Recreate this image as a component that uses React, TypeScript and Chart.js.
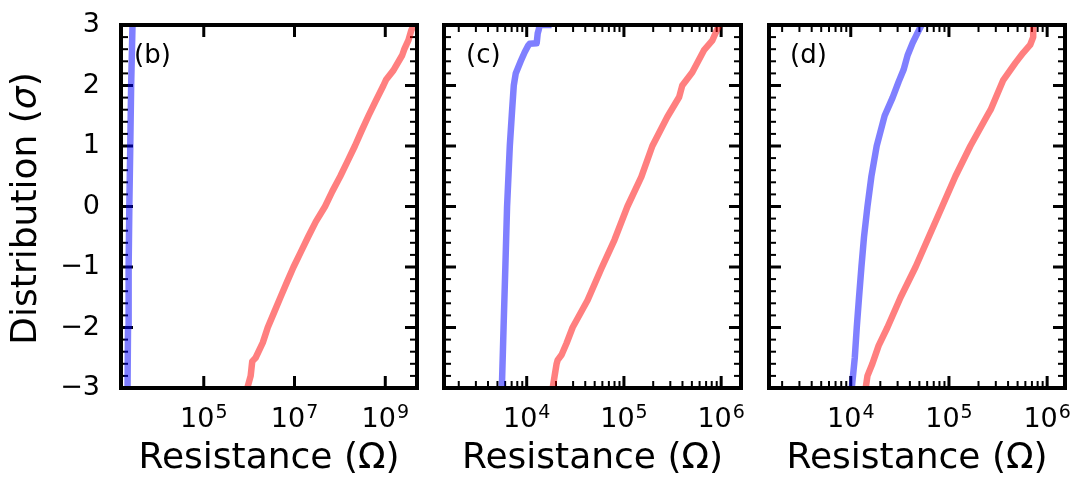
import { useEffect, useRef } from "react";
import { Chart, registerables } from "chart.js";

Chart.register(...registerables);

const FONT = "'DejaVu Sans', 'Liberation Sans', sans-serif";
const PAGE_H = 495;

// Probit axis (σ)
const SIGMA_MIN = -3;
const SIGMA_MAX = 3;
const SIGMA_TICKS = [-3, -2, -1, 0, 1, 2, 3];

// Panel (b): low- and high-resistance distributions
const bLowSigma = [-3, -2, -1, 0, 1, 2, 3];
const bLowRes = [2090, 2140, 2210, 2290, 2400, 2510, 2690];
const bHighSigma = [
  -3, -2.8, -2.56, -2.5, -2.25, -2, -1.75, -1.5, -1.25, -1, -0.75, -0.5, -0.25, 0,
  0.25, 0.5, 0.75, 1, 1.25, 1.5, 1.75, 2, 2.1, 2.25, 2.5, 2.6, 2.75, 2.9, 3,
];
const bHighRes = [
  9.1e5, 1.08e6, 1.17e6, 1.39e6, 2.0e6, 2.57e6, 3.55e6, 4.9e6, 6.8e6, 9.5e6, 1.38e7,
  2.0e7, 2.95e7, 4.7e7, 6.8e7, 1.02e8, 1.48e8, 2.14e8, 3.0e8, 4.27e8, 6.2e8, 9.1e8,
  1.05e9, 1.51e9, 2.36e9, 2.63e9, 3.24e9, 3.7e9, 4.2e9,
];

// Panel (c)
const cLowSigma = [-3, -2, -1, 0, 1, 1.6, 2.0, 2.2, 2.4, 2.55, 2.66, 2.69, 2.7, 2.86, 2.92, 3.0, 3.0];
const cLowRes = [
  5550, 5780, 6030, 6280, 6700, 7080, 7360, 7710, 8670, 9530, 10360, 10730, 12670, 12970,
  13280, 13590, 18030,
];
const cHighSigma = [
  -3, -2.8, -2.6, -2.54, -2.45, -2.26, -2, -1.55, -1.02, -0.55, 0, 0.49, 1, 1.48, 1.81, 2,
  2.22, 2.59, 2.74, 3,
];
const cHighRes = [
  18500, 19360, 20300, 20800, 22860, 25700, 29650, 42270, 58750, 80000, 108600, 151000,
  196000, 279000, 370000, 398000, 505000, 670000, 809000, 953000,
];

// Panel (d)
const dLowSigma = [-3, -2.5, -2, -1.5, -1, -0.5, 0, 0.5, 1, 1.5, 1.8, 2.06, 2.26, 2.5, 2.7, 2.87, 3];
const dLowRes = [
  10240, 10990, 11510, 12140, 12840, 13650, 14790, 16230, 18370, 22130, 26680, 30690, 34510,
  37930, 42570, 47860, 52610,
];
const dHighSigma = [-3, -2.8, -2.6, -2.3, -2, -1.5, -1, -0.5, 0, 0.5, 1, 1.5, 1.6, 2.09, 2.37, 2.54, 2.67, 2.8, 3];
const dHighRes = [
  14200, 14790, 16600, 19230, 23600, 32200, 45700, 62400, 85300, 116400, 165200, 245000,
  266000, 357300, 473200, 570200, 671000, 721000, 721000,
];

// Decade tick marks of the resistance axes
const bDecades = [1e5, 1e7, 1e9];
const cdDecades = [1e4, 1e5, 1e6];
const cdMinorDecades = [1e3, 1e4, 1e5];

const RED = "rgba(255, 0, 0, 0.5)";
const BLUE = "rgba(0, 0, 255, 0.5)";

type Panel = {
  id: string;
  label: string;
  left: number; // canvas left on the page
  width: number; // canvas width
  pad: { left: number; right: number };
  labelX: number; // page x of the panel tag
  xMin: number;
  xMax: number;
  majors: number[];
  minorDecades: number[];
  showY: boolean;
  low: [number[], number[]];
  high: [number[], number[]];
};

const PANELS: Panel[] = [
  {
    id: "b", label: "(b)", left: 0, width: 430, pad: { left: 0, right: 13 }, labelX: 134,
    xMin: 1500, xMax: 5.0e9, majors: bDecades, minorDecades: [], showY: true,
    low: [bLowSigma, bLowRes], high: [bHighSigma, bHighRes],
  },
  {
    id: "c", label: "(c)", left: 430, width: 330, pad: { left: 14, right: 19 }, labelX: 466,
    xMin: 1410, xMax: 1.6e6, majors: cdDecades, minorDecades: cdMinorDecades, showY: false,
    low: [cLowSigma, cLowRes], high: [cHighSigma, cHighRes],
  },
  {
    id: "d", label: "(d)", left: 760, width: 330, pad: { left: 9, right: 25 }, labelX: 790,
    xMin: 1470, xMax: 1.52e6, majors: cdDecades, minorDecades: cdMinorDecades, showY: false,
    low: [dLowSigma, dLowRes], high: [dHighSigma, dHighRes],
  },
];

const AREA_TOP = 25;
const AREA_BOTTOM = 388;
const Y_AXIS_W = 121;
const PAD_BOTTOM = 15;
const MAJOR_LEN = 12;
const MINOR_LEN = 7;
const TITLE_SIZE = 36;
const TICK_SIZE = 27;
const EXP_SIZE = 19;
const LINE_W = 6.5;
const Y_TITLE_X = 27;

const SUPERSCRIPT_SHIFT = 9;

function toPoints(sigma: number[], res: number[]) {
  return sigma.map((s, i) => ({ x: res[i], y: s }));
}

function minorSigmaTicks(): number[] {
  const out: number[] = [];
  for (let k = SIGMA_MIN * 5; k <= SIGMA_MAX * 5; k++) {
    if (k % 5 !== 0) out.push(k / 5);
  }
  return out;
}

function minorResTicks(decades: number[], min: number, max: number): number[] {
  const out: number[] = [];
  for (const d of decades) {
    for (let m = 2; m <= 9; m++) {
      const v = m * d;
      if (v > min && v < max) out.push(v);
    }
  }
  return out;
}

// Vertical axis title with an oblique sigma, as in math notation
function drawSigmaTitle(ctx: CanvasRenderingContext2D, cx: number, cy: number) {
  const parts: [string, string][] = [
    ["Distribution (", `${TITLE_SIZE}px ${FONT}`],
    ["σ", `oblique ${TITLE_SIZE}px ${FONT}`],
    [")", `${TITLE_SIZE}px ${FONT}`],
  ];
  let total = 0;
  const widths = parts.map(([t, f]) => {
    ctx.font = f;
    const w = ctx.measureText(t).width;
    total += w;
    return w;
  });
  ctx.save();
  ctx.translate(cx, cy);
  ctx.rotate(-Math.PI / 2);
  ctx.fillStyle = "#000";
  ctx.textBaseline = "middle";
  ctx.textAlign = "left";
  let x = -total / 2;
  parts.forEach(([t, f], i) => {
    ctx.font = f;
    ctx.fillText(t, x, 0);
    x += widths[i];
  });
  ctx.restore();
}

function makeDecor(panel: Panel) {
  const sigmaMinor = minorSigmaTicks();
  const resMinor = minorResTicks(panel.minorDecades, panel.xMin, panel.xMax);
  return {
    id: "panelDecor",
    beforeDatasetsDraw(chart: Chart) {
      const { ctx, chartArea: a } = chart;
      const xs = chart.scales.x;
      const ys = chart.scales.y;
      ctx.save();
      ctx.strokeStyle = "#000";
      ctx.lineCap = "butt";
      const seg = (x1: number, y1: number, x2: number, y2: number, w: number) => {
        ctx.lineWidth = w;
        ctx.beginPath();
        ctx.moveTo(x1, y1);
        ctx.lineTo(x2, y2);
        ctx.stroke();
      };
      for (const v of SIGMA_TICKS) {
        const y = ys.getPixelForValue(v);
        seg(a.left, y, a.left + MAJOR_LEN, y, 3);
        seg(a.right, y, a.right - MAJOR_LEN, y, 3);
      }
      for (const v of sigmaMinor) {
        const y = ys.getPixelForValue(v);
        seg(a.left, y, a.left + MINOR_LEN, y, 2);
        seg(a.right, y, a.right - MINOR_LEN, y, 2);
      }
      for (const v of panel.majors) {
        const x = xs.getPixelForValue(v);
        seg(x, a.bottom, x, a.bottom - MAJOR_LEN, 3);
        seg(x, a.top, x, a.top + MAJOR_LEN, 3);
      }
      for (const v of resMinor) {
        const x = xs.getPixelForValue(v);
        seg(x, a.bottom, x, a.bottom - MINOR_LEN, 2);
        seg(x, a.top, x, a.top + MINOR_LEN, 2);
      }
      ctx.restore();
    },
    afterDatasetsDraw(chart: Chart) {
      const { ctx, chartArea: a } = chart;
      const xs = chart.scales.x;
      ctx.save();
      // axes frame
      ctx.strokeStyle = "#000";
      ctx.lineWidth = 4;
      ctx.strokeRect(a.left, a.top, a.right - a.left, a.bottom - a.top);

      // panel tag
      ctx.fillStyle = "#000";
      ctx.textBaseline = "alphabetic";
      ctx.textAlign = "left";
      ctx.font = `26px ${FONT}`;
      ctx.fillText(panel.label, panel.labelX - panel.left, 63);

      // decade labels 10^n
      for (const v of panel.majors) {
        const x = xs.getPixelForValue(v);
        const exp = String(Math.round(Math.log10(v)));
        ctx.font = `${TICK_SIZE}px ${FONT}`;
        const wb = ctx.measureText("10").width;
        ctx.font = `${EXP_SIZE}px ${FONT}`;
        const we = ctx.measureText(exp).width;
        const x0 = x - (wb + we + 1) / 2;
        ctx.font = `${TICK_SIZE}px ${FONT}`;
        ctx.fillText("10", x0, 427);
        ctx.font = `${EXP_SIZE}px ${FONT}`;
        ctx.fillText(exp, x0 + wb + 1, 427 - SUPERSCRIPT_SHIFT);
      }
      ctx.restore();

      if (panel.showY) {
        drawSigmaTitle(ctx, Y_TITLE_X, (a.top + a.bottom) / 2 + 2);
      }
    },
  };
}

function PanelChart({ panel }: { panel: Panel }) {
  const ref = useRef<HTMLCanvasElement>(null);

  useEffect(() => {
    const canvas = ref.current;
    if (!canvas) return;
    const xAxisH = PAGE_H - PAD_BOTTOM - AREA_BOTTOM;
    const chart = new Chart(canvas, {
      type: "scatter",
      data: {
        datasets: [
          {
            data: toPoints(panel.high[0], panel.high[1]),
            borderColor: RED,
            backgroundColor: RED,
            borderWidth: LINE_W,
            borderJoinStyle: "round",
            showLine: true,
            pointRadius: 0,
            pointHoverRadius: 0,
            clip: 0,
          },
          {
            data: toPoints(panel.low[0], panel.low[1]),
            borderColor: BLUE,
            backgroundColor: BLUE,
            borderWidth: LINE_W,
            borderJoinStyle: "round",
            showLine: true,
            pointRadius: 0,
            pointHoverRadius: 0,
            clip: 0,
          },
        ],
      },
      options: {
        responsive: false,
        animation: false,
        events: [],
        layout: {
          padding: { left: panel.pad.left, right: panel.pad.right, top: AREA_TOP, bottom: PAD_BOTTOM },
        },
        plugins: {
          legend: { display: false },
          tooltip: { enabled: false },
        },
        scales: {
          x: {
            type: "logarithmic",
            min: panel.xMin,
            max: panel.xMax,
            grid: { display: false, drawTicks: false, tickLength: 0 },
            border: { display: false },
            ticks: { display: false },
            title: {
              display: true,
              text: "Resistance (Ω)",
              color: "#000",
              font: { family: FONT, size: TITLE_SIZE },
              padding: { top: 0, bottom: 0 },
            },
            afterFit: (s: any) => {
              s.height = xAxisH;
            },
          },
          y: {
            type: "linear",
            min: SIGMA_MIN,
            max: SIGMA_MAX,
            display: panel.showY,
            grid: { display: false, drawTicks: false, tickLength: 0 },
            border: { display: false },
            ticks: {
              stepSize: 1,
              color: "#000",
              padding: 21,
              font: { family: FONT, size: TICK_SIZE },
              callback: (v: any) => (Number(v) < 0 ? "\u2212" + Math.abs(Number(v)) : String(v)),
            },
            title: { display: false },
            afterFit: (s: any) => {
              s.width = panel.showY ? Y_AXIS_W : 0;
              // keep the plot frame where the layout padding puts it
              s.paddingTop = 0;
              s.paddingBottom = 0;
            },
          },
        },
      },
      plugins: [makeDecor(panel)],
    });
    return () => chart.destroy();
  }, [panel]);

  return (
    <canvas
      ref={ref}
      width={panel.width}
      height={PAGE_H}
      style={{ position: "absolute", left: panel.left, top: 0, width: panel.width, height: PAGE_H }}
    />
  );
}

export default function App() {
  return (
    <div style={{ position: "absolute", left: 0, top: 0, width: 1090, height: PAGE_H, background: "#fff" }}>
      {PANELS.map((p) => (
        <PanelChart key={p.id} panel={p} />
      ))}
    </div>
  );
}
